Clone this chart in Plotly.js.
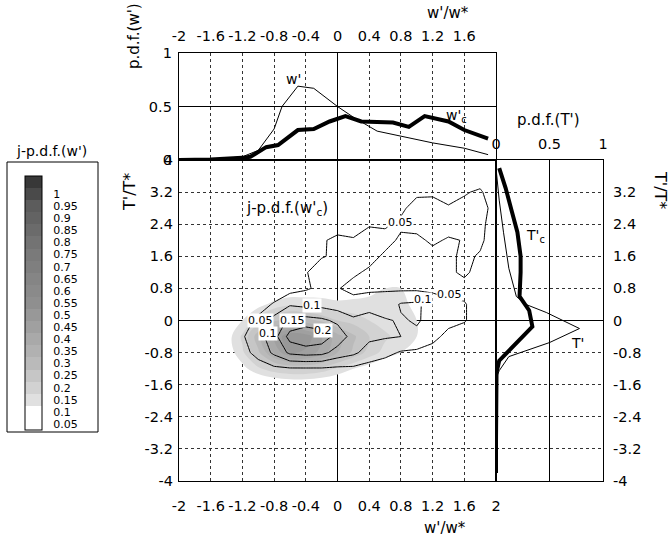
<!DOCTYPE html>
<html><head><meta charset="utf-8">
<script src="https://cdn.plot.ly/plotly-3.0.1.min.js"></script>
<style>html,body{margin:0;padding:0;background:#fff}#chart{width:671px;height:536px}</style>
</head><body><div id="chart"></div>
<script>
// ---- data ----
const wGrid = [-2.0,-1.8,-1.6,-1.4,-1.2,-1.0,-0.8,-0.6,-0.4,-0.2,0.0,0.2,0.4,0.6,0.8,1.0,1.2,1.4,1.6,1.8,2.0];
const tGrid = [-4.0,-3.6,-3.2,-2.8,-2.4,-2.0,-1.6,-1.2,-0.8,-0.4,0.0,0.4,0.8,1.2,1.6,2.0,2.4,2.8,3.2,3.6,4.0];

// joint pdf of w' (shaded)
const jpdfW = [
[0,0,0,0,0,0,0,0,0,0,0,0,0,0,0,0,0,0,0,0,0],
[0,0,0,0,0,0,0,0,0,0,0,0,0,0,0,0,0,0,0,0,0],
[0,0,0,0,0,0,0,0,0,0,0,0,0,0,0,0,0,0,0,0,0],
[0,0,0,0,0,0,0,0,0,0,0,0,0,0,0,0,0,0,0,0,0],
[0,0,0,0,0,0,0,0,0,0,0,0,0,0,0,0,0,0,0,0,0],
[0,0,0,0,0,0,0,0,0,0,0,0,0,0,0,0,0,0,0,0,0],
[0,0,0,0,0,0.02,0.04,0.05,0.05,0.04,0.03,0.02,0,0,0,0,0,0,0,0,0],
[0,0,0,0.02,0.08,0.14,0.18,0.2,0.2,0.18,0.14,0.1,0.07,0.04,0.02,0,0,0,0,0,0],
[0,0,0.01,0.06,0.14,0.24,0.36,0.45,0.44,0.38,0.3,0.24,0.18,0.13,0.1,0.07,0.04,0.02,0,0,0],
[0,0,0.02,0.07,0.16,0.28,0.4,0.5,0.48,0.4,0.32,0.26,0.2,0.16,0.13,0.1,0.07,0.05,0.03,0,0],
[0,0,0.01,0.04,0.1,0.18,0.24,0.28,0.27,0.24,0.2,0.18,0.15,0.13,0.12,0.1,0.07,0.05,0.03,0,0],
[0,0,0,0,0.03,0.08,0.12,0.14,0.13,0.12,0.11,0.11,0.11,0.11,0.11,0.09,0.06,0.03,0,0,0],
[0,0,0,0,0,0,0.03,0.05,0.06,0.07,0.07,0.08,0.09,0.1,0.1,0.08,0.05,0.02,0,0,0],
[0,0,0,0,0,0,0,0,0,0,0.03,0.05,0.07,0.08,0.08,0.07,0.05,0.02,0,0,0],
[0,0,0,0,0,0,0,0,0,0,0,0,0.03,0.05,0.06,0.05,0.03,0,0,0,0],
[0,0,0,0,0,0,0,0,0,0,0,0,0,0,0.02,0,0,0,0,0,0],
[0,0,0,0,0,0,0,0,0,0,0,0,0,0,0,0,0,0,0,0,0],
[0,0,0,0,0,0,0,0,0,0,0,0,0,0,0,0,0,0,0,0,0],
[0,0,0,0,0,0,0,0,0,0,0,0,0,0,0,0,0,0,0,0,0],
[0,0,0,0,0,0,0,0,0,0,0,0,0,0,0,0,0,0,0,0,0],
[0,0,0,0,0,0,0,0,0,0,0,0,0,0,0,0,0,0,0,0,0]
];

// joint pdf of w'c (contour lines)
const jpdfWc = [
[0,0,0,0,0,0,0,0,0,0,0,0,0,0,0,0,0,0,0,0,0],
[0,0,0,0,0,0,0,0,0,0,0,0,0,0,0,0,0,0,0,0,0],
[0,0,0,0,0,0,0,0,0,0,0,0,0,0,0,0,0,0,0,0,0],
[0,0,0,0,0,0,0,0,0,0,0,0,0,0,0,0,0,0,0,0,0],
[0,0,0,0,0,0,0,0,0,0,0,0,0,0,0,0,0,0,0,0,0],
[0,0,0,0,0,0,0,0,0,0,0,0,0,0,0,0,0,0,0,0,0],
[0,0,0,0,0,0.01,0.01,0.015,0.015,0.015,0.01,0.01,0.005,0,0,0,0,0,0,0,0],
[0,0,0,0,0.01,0.03,0.04,0.045,0.045,0.045,0.04,0.04,0.03,0.02,0.01,0.005,0,0,0,0,0],
[0,0,0,0.01,0.035,0.065,0.11,0.16,0.17,0.165,0.13,0.11,0.08,0.065,0.045,0.04,0.03,0.02,0.01,0,0],
[0,0,0.01,0.03,0.045,0.08,0.13,0.22,0.245,0.23,0.18,0.13,0.11,0.105,0.1,0.09,0.065,0.035,0.015,0,0],
[0,0,0,0.01,0.03,0.06,0.12,0.16,0.17,0.16,0.14,0.11,0.12,0.105,0.095,0.105,0.085,0.065,0.055,0.02,0],
[0,0,0,0,0.01,0.03,0.055,0.095,0.085,0.085,0.075,0.065,0.08,0.07,0.105,0.11,0.075,0.06,0.055,0.02,0],
[0,0,0,0,0,0.01,0.02,0.03,0.045,0.06,0.052,0.04,0.04,0.045,0.04,0.04,0.04,0.035,0.03,0.01,0],
[0,0,0,0,0,0,0.005,0.02,0.048,0.065,0.06,0.055,0.045,0.035,0.03,0.03,0.03,0.04,0.06,0.03,0.005],
[0,0,0,0,0,0,0,0.01,0.04,0.048,0.055,0.06,0.06,0.045,0.035,0.03,0.035,0.04,0.06,0.045,0.005],
[0,0,0,0,0,0,0,0,0.01,0.045,0.06,0.052,0.06,0.06,0.045,0.04,0.058,0.045,0.052,0.06,0.02],
[0,0,0,0,0,0,0,0,0,0.01,0.03,0.04,0.048,0.046,0.055,0.065,0.07,0.07,0.07,0.065,0.02],
[0,0,0,0,0,0,0,0,0,0,0.005,0.01,0.02,0.03,0.045,0.06,0.062,0.055,0.065,0.07,0.03],
[0,0,0,0,0,0,0,0,0,0,0,0,0,0.01,0.02,0.045,0.045,0.03,0.045,0.058,0.01],
[0,0,0,0,0,0,0,0,0,0,0,0,0,0,0,0,0,0,0,0.02,0],
[0,0,0,0,0,0,0,0,0,0,0,0,0,0,0,0,0,0,0,0,0]
];

// marginal pdf of w' (thin) and w'c (thick)
const pdfW_w  = [-2,-1.6,-1.2,-1.0,-0.8,-0.7,-0.5,-0.3,0,0.2,0.5,0.8,1.2,1.6,1.9];
const pdfW_p  = [0,0.005,0.03,0.09,0.29,0.5,0.69,0.67,0.5,0.4,0.27,0.22,0.16,0.11,0.05];
const pdfWc_w = [-2,-1.6,-1.2,-1.1,-0.9,-0.75,-0.5,-0.3,-0.1,0.1,0.3,0.7,0.9,1.1,1.4,1.6,1.9];
const pdfWc_p = [0,0.005,0.02,0.03,0.12,0.14,0.28,0.29,0.36,0.41,0.36,0.35,0.31,0.41,0.36,0.28,0.2];

// marginal pdf of T' (thin) and T'c (thick)
const pdfT_t  = [3.8,3.0,2.2,1.3,0.6,0.4,0.2,-0.2,-0.55,-0.9,-1.25,-1.45];
const pdfT_p  = [0,0.03,0.07,0.12,0.19,0.28,0.47,0.78,0.5,0.12,0.03,0];
const pdfTc_t = [3.8,3.3,2.7,2.2,1.6,1.2,0.6,0.25,-0.15,-0.55,-1.0,-1.3,-2.0,-3.0,-3.8];
const pdfTc_p = [0.03,0.09,0.15,0.2,0.23,0.23,0.22,0.31,0.34,0.19,0.03,0.005,0,0,0];

// ticks
const wTicks = [-2,-1.6,-1.2,-0.8,-0.4,0,0.4,0.8,1.2,1.6,2];
const wTickText = ['-2','-1.6','-1.2','-0.8','-0.4','0','0.4','0.8','1.2','1.6','2'];
const wTicksTop = [-2,-1.6,-1.2,-0.8,-0.4,0,0.4,0.8,1.2,1.6];
const wTickTextTop = ['-2','-1.6','-1.2','-0.8','-0.4','0','0.4','0.8','1.2','1.6'];
const tTicksMain = [-4,-3.2,-2.4,-1.6,-0.8,0,0.8,1.6,2.4,3.2,4];
const tTickTextMain = ['-4','-3.2','-2.4','-1.6','-0.8','0','0.8','1.6','2.4','3.2','4'];
const tTicksRight = [-4,-3.2,-2.4,-1.6,-0.8,0,0.8,1.6,2.4,3.2];
const tTickTextRight = ['-4','-3.2','-2.4','-1.6','-0.8','0','0.8','1.6','2.4','3.2'];
const pTicks = [0,0.5,1];
const pTickText = ['0','0.5','1'];
const legendLevels = [0.05,0.1,0.15,0.2,0.25,0.3,0.35,0.4,0.45,0.5,0.55,0.6,0.65,0.7,0.75,0.8,0.85,0.9,0.95,1];
const legendText = ['0.05','0.1','0.15','0.2','0.25','0.3','0.35','0.4','0.45','0.5','0.55','0.6','0.65','0.7','0.75','0.8','0.85','0.9','0.95','1'];

// ---- layout helpers ----
const W = 671, H = 536;
const px = v => v / W;
const py = v => 1 - v / H;
const FONT = 'DejaVu Sans, Liberation Sans, Arial, sans-serif';
const T0 = 'rgba(0,0,0,0)';

const traces = [
  {
    type: 'contour', x: wGrid, y: tGrid, z: jpdfW, xaxis: 'x', yaxis: 'y',
    autocontour: false, contours: {start: 0.05, end: 1, size: 0.05, coloring: 'fill', showlines: false},
    line: {width: 0}, zauto: false, zmin: 0, zmax: 1.05,
    colorscale: [[0,'rgba(255,255,255,0)'],[0.05,'rgba(255,255,255,0)'],[0.07,'rgba(232,232,232,1)'],
                 [0.15,'#d2d2d2'],[0.25,'#bababa'],[0.4,'#a0a0a0'],[0.5,'#8f8f8f'],[0.7,'#7a7a7a'],
                 [0.9,'#5c5c5c'],[1,'#383838']],
    hoverinfo: 'skip',
    colorbar: {
      x: px(25), xanchor: 'left', xref: 'paper', xpad: 0,
      y: py(303), yanchor: 'middle', yref: 'paper', ypad: 0,
      len: 254, lenmode: 'pixels', thickness: 17,
      tickmode: 'array', tickvals: legendLevels.map(v => v - 0.025), ticktext: legendText,
      ticks: 'outside', ticklen: 9, tickcolor: T0,
      tickfont: {family: FONT, size: 11, color: '#000'},
      outlinewidth: 1, outlinecolor: '#000', bgcolor: T0
    }
  },
  {
    type: 'contour', x: wGrid, y: tGrid, z: jpdfWc, xaxis: 'x', yaxis: 'y',
    autocontour: false, contours: {start: 0.05, end: 0.2, size: 0.05, coloring: 'lines'},
    line: {width: 1, color: '#000', smoothing: 0},
    colorscale: [[0,'#000'],[1,'#000']], showscale: false, hoverinfo: 'skip'
  },
  {type: 'scatter', mode: 'lines', x: pdfW_w, y: pdfW_p, xaxis: 'x2', yaxis: 'y2',
   line: {color: '#000', width: 1}},
  {type: 'scatter', mode: 'lines', x: pdfWc_w, y: pdfWc_p, xaxis: 'x2', yaxis: 'y2',
   line: {color: '#000', width: 4}},
  {type: 'scatter', mode: 'lines', x: pdfT_p, y: pdfT_t, xaxis: 'x3', yaxis: 'y3',
   line: {color: '#000', width: 1}},
  {type: 'scatter', mode: 'lines', x: pdfTc_p, y: pdfTc_t, xaxis: 'x3', yaxis: 'y3',
   line: {color: '#000', width: 4}}
];

const axBase = {
  showline: true, linecolor: '#000', linewidth: 1.2, mirror: true,
  tickfont: {family: FONT, size: 14.5, color: '#000'},
  ticks: 'outside', tickcolor: T0, fixedrange: true, tickmode: 'array'
};
const mainX = [px(179), px(496)];
const mainY = [py(481), py(160)];

const layout = {
  width: W, height: H, margin: {l: 0, r: 0, t: 0, b: 0},
  paper_bgcolor: '#fff', plot_bgcolor: 'rgba(0,0,0,0)', showlegend: false,
  font: {family: FONT, color: '#000'},
  xaxis: Object.assign({}, axBase, {
    domain: mainX, anchor: 'y', range: [-2, 2], tickvals: wTicks, ticktext: wTickText, ticklen: 11,
    showgrid: true, griddash: 'dot', gridcolor: '#333', gridwidth: 1,
    zeroline: true, zerolinecolor: '#000', zerolinewidth: 1.2
  }),
  yaxis: Object.assign({}, axBase, {
    domain: mainY, anchor: 'x', range: [-4, 4], tickvals: tTicksMain, ticktext: tTickTextMain, ticklen: 2,
    showgrid: true, griddash: 'dot', gridcolor: '#333', gridwidth: 1,
    zeroline: true, zerolinecolor: '#000', zerolinewidth: 1.2
  }),
  xaxis2: Object.assign({}, axBase, {
    domain: mainX, anchor: 'y2', side: 'top', range: [-2, 2], tickvals: wTicksTop, ticktext: wTickTextTop, ticklen: 5,
    showgrid: true, griddash: 'dot', gridcolor: '#333', gridwidth: 1,
    zeroline: true, zerolinecolor: '#000', zerolinewidth: 1.2
  }),
  yaxis2: Object.assign({}, axBase, {
    domain: [py(160), py(53)], anchor: 'x2', range: [0, 1], tickvals: pTicks, ticktext: pTickText, ticklen: 3,
    showgrid: true, gridcolor: '#000', gridwidth: 1, zeroline: false
  }),
  xaxis3: Object.assign({}, axBase, {
    domain: [px(496), px(603)], anchor: 'y3', side: 'top', range: [0, 1], tickvals: pTicks, ticktext: pTickText, ticklen: 4,
    showgrid: true, gridcolor: '#000', gridwidth: 1, zeroline: false
  }),
  yaxis3: Object.assign({}, axBase, {
    domain: mainY, anchor: 'x3', side: 'right', range: [-4, 4], tickvals: tTicksRight, ticktext: tTickTextRight, ticklen: 6,
    showgrid: true, griddash: 'dot', gridcolor: '#333', gridwidth: 1,
    zeroline: true, zerolinecolor: '#000', zerolinewidth: 1.2
  }),
  shapes: [
    {type: 'rect', xref: 'paper', yref: 'paper', x0: px(7), x1: px(98), y0: py(432), y1: py(162),
     line: {color: '#000', width: 1}}
  ],
  annotations: []
};

function paperText(text, x, y, size, angle) {
  layout.annotations.push({text: text, xref: 'paper', yref: 'paper', x: px(x), y: py(y),
    xanchor: 'center', yanchor: 'middle', showarrow: false, textangle: angle || 0,
    font: {family: FONT, size: size, color: '#000'}});
}
function dataText(text, xr, yr, x, y, size, bg) {
  layout.annotations.push({text: text, xref: xr, yref: yr, x: x, y: y,
    xanchor: 'center', yanchor: 'middle', showarrow: false, borderpad: 0,
    bgcolor: bg || 'rgba(0,0,0,0)', font: {family: FONT, size: size, color: '#000'}});
}

paperText("w'/w*", 448, 13, 15);
paperText("w'/w*", 445, 528, 15);
paperText("p.d.f.(w')", 134, 36, 15, -90);
paperText("T'/T*", 130, 192, 16, -90);
paperText("T'/T*", 661, 190, 16, 90);
paperText("p.d.f.(T')", 548, 120, 15);
paperText("j-p.d.f.(w')", 51, 151, 14);

dataText("w'", 'x2', 'y2', -0.56, 0.76, 14);
dataText("w'<sub>c</sub>", 'x2', 'y2', 1.5, 0.41, 14);
dataText("T'<sub>c</sub>", 'x3', 'y3', 0.37, 2.1, 14);
dataText("T'", 'x3', 'y3', 0.76, -0.55, 14);
dataText("j-p.d.f.(w'<sub>c</sub>)", 'x', 'y', -0.64, 2.8, 15);

dataText('0.05', 'x', 'y', 0.8, 2.45, 11, '#fff');
dataText('0.05', 'x', 'y', 1.41, 0.66, 11, '#fff');
dataText('0.1', 'x', 'y', 1.08, 0.52, 11, '#fff');
dataText('0.1', 'x', 'y', -0.32, 0.38, 11, '#fff');
dataText('0.05', 'x', 'y', -0.97, 0.0, 11, '#fff');
dataText('0.15', 'x', 'y', -0.57, 0.0, 11, '#fff');
dataText('0.1', 'x', 'y', -0.88, -0.33, 11, '#fff');
dataText('0.2', 'x', 'y', -0.18, -0.26, 11, '#fff');

Plotly.newPlot('chart', traces, layout, {displayModeBar: false, staticPlot: true});
</script>
</body></html>
